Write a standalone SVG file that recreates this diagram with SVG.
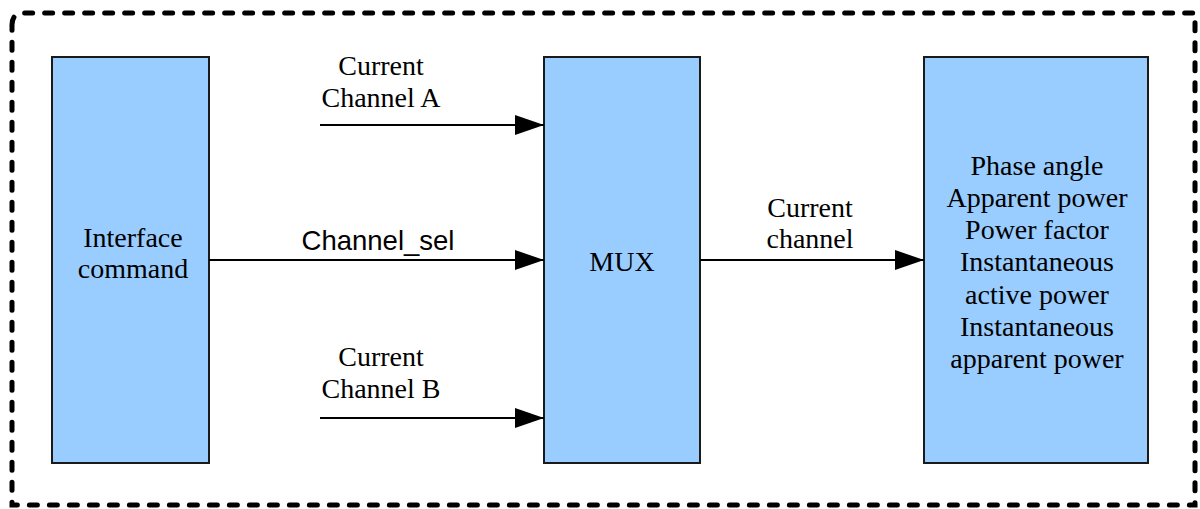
<svg xmlns="http://www.w3.org/2000/svg" width="1200" height="509" viewBox="0 0 1200 509">
<style>
.box{fill:#99ccff;stroke:#1a1a1a;stroke-width:2}
.t{font-family:"Liberation Serif","Times New Roman",serif;font-size:28px;fill:#000;text-anchor:middle}
.s{font-family:"Liberation Sans",Arial,sans-serif;font-size:27.5px;fill:#000;text-anchor:middle}
.c{stroke:#000;stroke-width:2;fill:none;marker-end:url(#ah)}
</style>
<defs>
<marker id="ah" markerWidth="30" markerHeight="20" refX="29" refY="10" orient="auto" markerUnits="userSpaceOnUse">
<path d="M0,0 L29,10 L0,20 Z" fill="#000"/>
</marker>
</defs>
<rect x="0" y="0" width="1200" height="509" fill="#fff"/>
<path d="M12,25 Q12,13 24,13 L1195,13 L1195,505 L12,505 Z" fill="none" stroke="#000" stroke-width="5" stroke-dasharray="8 12" stroke-linecap="round"/>
<g id="interface">
<rect class="box" x="52" y="57" width="157" height="406"/>
<text class="t" x="133" y="247">Interface</text>
<text class="t" x="133" y="278">command</text>
</g>
<g id="mux">
<rect class="box" x="544" y="57" width="156" height="406"/>
<text class="t" x="622" y="271">MUX</text>
</g>
<g id="outputs">
<rect class="box" x="924" y="57" width="224" height="406"/>
<text class="t" x="1037" y="175">Phase angle</text>
<text class="t" x="1037" y="207">Apparent power</text>
<text class="t" x="1037" y="239">Power factor</text>
<text class="t" x="1037" y="271">Instantaneous</text>
<text class="t" x="1037" y="304">active power</text>
<text class="t" x="1037" y="336">Instantaneous</text>
<text class="t" x="1037" y="368">apparent power</text>
</g>
<g id="connectors">
<line class="c" x1="320" y1="125" x2="544" y2="125"/>
<line class="c" x1="209" y1="260" x2="544" y2="260"/>
<line class="c" x1="320" y1="418" x2="544" y2="418"/>
<line class="c" x1="700" y1="260" x2="924" y2="260"/>
<text class="t" x="381" y="75">Current</text>
<text class="t" x="381" y="107">Channel A</text>
<text class="s" x="378" y="250">Channel_sel</text>
<text class="t" x="381" y="366">Current</text>
<text class="t" x="381" y="398">Channel B</text>
<text class="t" x="810" y="217">Current</text>
<text class="t" x="810" y="248">channel</text>
</g>
</svg>
